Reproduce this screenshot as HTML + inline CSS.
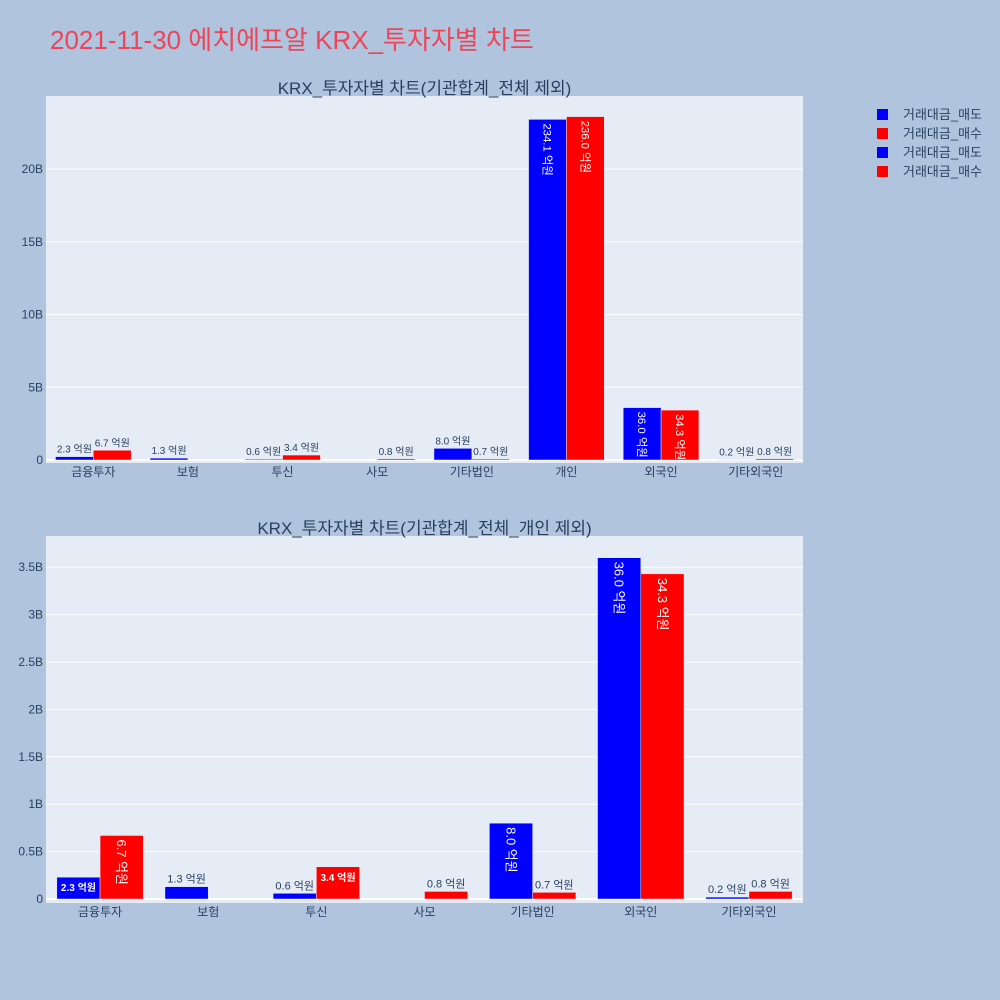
<!DOCTYPE html>
<html><head><meta charset="utf-8"><style>
body{margin:0;background:#b0c4de;}
svg{display:block;font-family:"Liberation Sans","Noto Sans CJK KR",sans-serif;}
</style></head><body>
<svg id="s" width="1000" height="1000">
<rect width="1000" height="1000" fill="#b0c4de"/>
<text x="50" y="49" font-size="26" fill="#ef4458">2021-11-30 에치에프알 KRX_투자자별 차트</text>
<g font-size="13" fill="#2a3f5f">
<rect x="877" y="109" width="11" height="11" fill="#0000ff"/><text x="903" y="119">거래대금_매도</text>
<rect x="877" y="128" width="11" height="11" fill="#ff0000"/><text x="903" y="138">거래대금_매수</text>
<rect x="877" y="147" width="11" height="11" fill="#0000ff"/><text x="903" y="157">거래대금_매도</text>
<rect x="877" y="166" width="11" height="11" fill="#ff0000"/><text x="903" y="176">거래대금_매수</text>
</g>
</svg>
<script>
const cats1 = ["금융투자","보험","투신","사모","기타법인","개인","외국인","기타외국인"];
const sell1 = [2.3,1.3,0.6,0,8.0,234.1,36.0,0.2];
const buy1 = [6.7,0,3.4,0.8,0.7,236.0,34.3,0.8];
const ticks1 = [0,5,10,15,20];
const tickLabels1 = ["0","5B","10B","15B","20B"];
const cats2 = ["금융투자","보험","투신","사모","기타법인","외국인","기타외국인"];
const sell2 = [2.3,1.3,0.6,0,8.0,36.0,0.2];
const buy2 = [6.7,0,3.4,0.8,0.7,34.3,0.8];
const ticks2 = [0,0.5,1,1.5,2,2.5,3,3.5];
const tickLabels2 = ["0","0.5B","1B","1.5B","2B","2.5B","3B","3.5B"];

const NS="http://www.w3.org/2000/svg", svg=document.getElementById('s');
function mk(t,a,p){const e=document.createElementNS(NS,t);for(const k in a)e.setAttribute(k,a[k]);(p||svg).appendChild(e);return e;}

function chart(o){
  const g=mk('g',{});
  
  
  const bg=mk('rect',{x:o.x0,y:o.y0,width:o.x1-o.x0,height:o.y1-o.y0,fill:'#e5ecf6'},g);
  
  
  const yS=v=>o.zero-(v/o.unit)*o.pxPerUnit; // v in 억원 -> B units
  const t=mk('text',{x:(o.x0+o.x1)/2,y:o.y0-2,'text-anchor':'middle','font-size':17,fill:'#2a3f5f'},g);
  t.textContent=o.title;
  
  
  o.ticks.forEach((tv,i)=>{
    const y=o.zero-tv*o.pxPerUnit;
    const l=mk('line',{x1:o.x0,x2:o.x1,y1:y,y2:y,stroke:'#fff','stroke-width':i==0?2:1},g);
    
    
    const tx=mk('text',{x:o.x0-3,y:y+4,'text-anchor':'end','font-size':12,fill:'#2a3f5f'},g);
    tx.textContent=o.tickLabels[i];
    
    
  });
  const n=o.cats.length, cw=(o.x1-o.x0)/n, bw=cw*0.4;
  o.cats.forEach((c,i)=>{
    const cx=o.x0+cw*(i+0.5);
    const lb=mk('text',{x:cx,y:o.y1+13,'text-anchor':'middle','font-size':12,fill:'#2a3f5f'},g);
    lb.textContent=c;
    
    
    [[o.sell[i],'#0000ff',cx-bw,'sell'],[o.buy[i],'#ff0000',cx,'buy']].forEach(([v,col,bx,nm])=>{
      if(v<=0)return;
      const top=yS(v), h=o.zero-top;
      const r=mk('rect',{x:bx,y:top,width:bw,height:Math.max(h,0.5),fill:col,stroke:'#e5ecf6','stroke-width':0.5},g);
      
      
      const s=v.toFixed(1)+' 억원';
      let tx;
      if(h>48){
        const fs=Math.min(13,Math.max(9,bw*0.3));
        tx=mk('text',{x:bx+bw/2+fs*0.35,y:top+4,'font-size':fs,fill:'#fff',transform:`rotate(90 ${bx+bw/2+fs*0.35} ${top+4})`},g);
        tx.setAttribute('x',bx+bw/2-fs*0.35);
        tx.setAttribute('transform',`rotate(90 ${bx+bw/2-fs*0.35} ${top+4})`);
      } else if(h>18){
        tx=mk('text',{x:bx+bw/2,y:top+14,'text-anchor':'middle','font-size':10,'font-weight':'bold',fill:'#fff'},g);
      } else {
        tx=mk('text',{x:bx+bw/2,y:top-4,'text-anchor':'middle','font-size':o.small,fill:'#2a3f5f'},g);
      }
      tx.textContent=s;
      
      
    });
  });
}
chart({name:'chart-all',title:'KRX_투자자별 차트(기관합계_전체 제외)',x0:46,x1:803,y0:96,y1:463,zero:460,unit:10,pxPerUnit:72.75/5,
  cats:cats1,sell:sell1,buy:buy1,ticks:ticks1,tickLabels:tickLabels1,small:10});
chart({name:'chart-excl-individual',title:'KRX_투자자별 차트(기관합계_전체_개인 제외)',x0:46,x1:803,y0:536,y1:903,zero:899,unit:10,pxPerUnit:47.4/0.5,
  cats:cats2,sell:sell2,buy:buy2,ticks:ticks2,tickLabels:tickLabels2,small:11});
</script>
</body></html>
